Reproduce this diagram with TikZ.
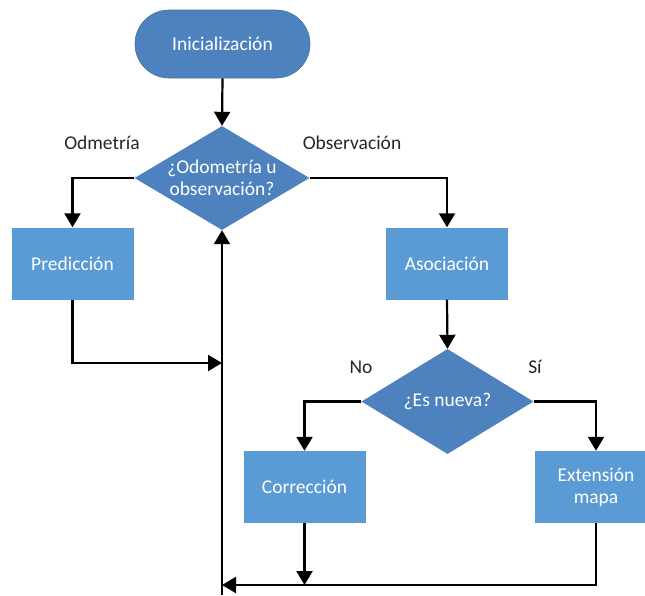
\documentclass[tikz,border=0pt]{standalone}
\usepackage{fontspec}
\setmainfont{Carlito}
\usetikzlibrary{shapes.geometric,arrows.meta}
\definecolor{deepblue}{HTML}{4D82BE}
\definecolor{softblue}{HTML}{5B9BD5}
\definecolor{labelgray}{HTML}{262626}
\begin{document}
\begin{tikzpicture}[x=1pt,y=-1pt,
  every node/.style={font=\fontsize{19.5}{22}\selectfont},
  terminal/.style={fill=deepblue, draw=deepblue!85!black, line width=0.6pt,
    rounded corners=34pt, minimum width=175pt, minimum height=68pt,
    text=white, inner sep=0pt},
  decision/.style={diamond, fill=deepblue, aspect=1.65, inner sep=0pt,
    text=white, align=center},
  process/.style={rectangle, fill=softblue, minimum width=122pt,
    minimum height=72pt, text=white, align=center, inner sep=0pt},
  branch/.style={text=labelgray},
  flow/.style={line width=2.2pt, -{Triangle[length=14pt,width=16pt]}}]
\clip (0,0) rectangle (645,595);

% shapes
\node[terminal] (init) at (222.5,44) {Inicialización};
\node[decision, minimum width=175pt, minimum height=104pt] (odo) at (222,178)
  {¿Odometría u\\observación?};
\node[process] (pred) at (72.5,263.5) {Predicción};
\node[process] (asoc) at (447,263.5) {Asociación};
\node[decision, minimum width=172pt, minimum height=105pt] (nueva) at (447.5,401.5)
  {¿Es nueva?};
\node[process] (corr) at (304.5,487) {Corrección};
\node[process] (ext) at (596,487) {Extensión\\mapa};

% branch labels
\node[branch] (lodo) at (102,143) {Odmetría};
\node[branch] (lobs) at (352,143) {Observación};
\node[branch] (lno) at (361,367) {No};
\node[branch] (lsi) at (535,367) {Sí};

% merge points on the return line
\coordinate (back) at (222,595);
\coordinate (joinP) at (222,363);
\coordinate (joinB) at (222,585);
\coordinate (endC) at (304.5,585);

% connectors
\draw[flow] (init.south) -- (odo.north);
\draw[flow] (odo.west) -| (pred.north);
\draw[flow] (odo.east) -| (asoc.north);
\draw[flow] (asoc.south) -- (nueva.north);
\draw[flow] (nueva.west) -| (corr.north);
\draw[flow] (nueva.east) -| (ext.north);
\draw[flow] (pred.south) |- (joinP);
\draw[flow] (corr.south) -- (endC);
\draw[flow] (ext.south) |- (joinB);
\draw[flow] (back) -- (odo.south);
\end{tikzpicture}
\end{document}
